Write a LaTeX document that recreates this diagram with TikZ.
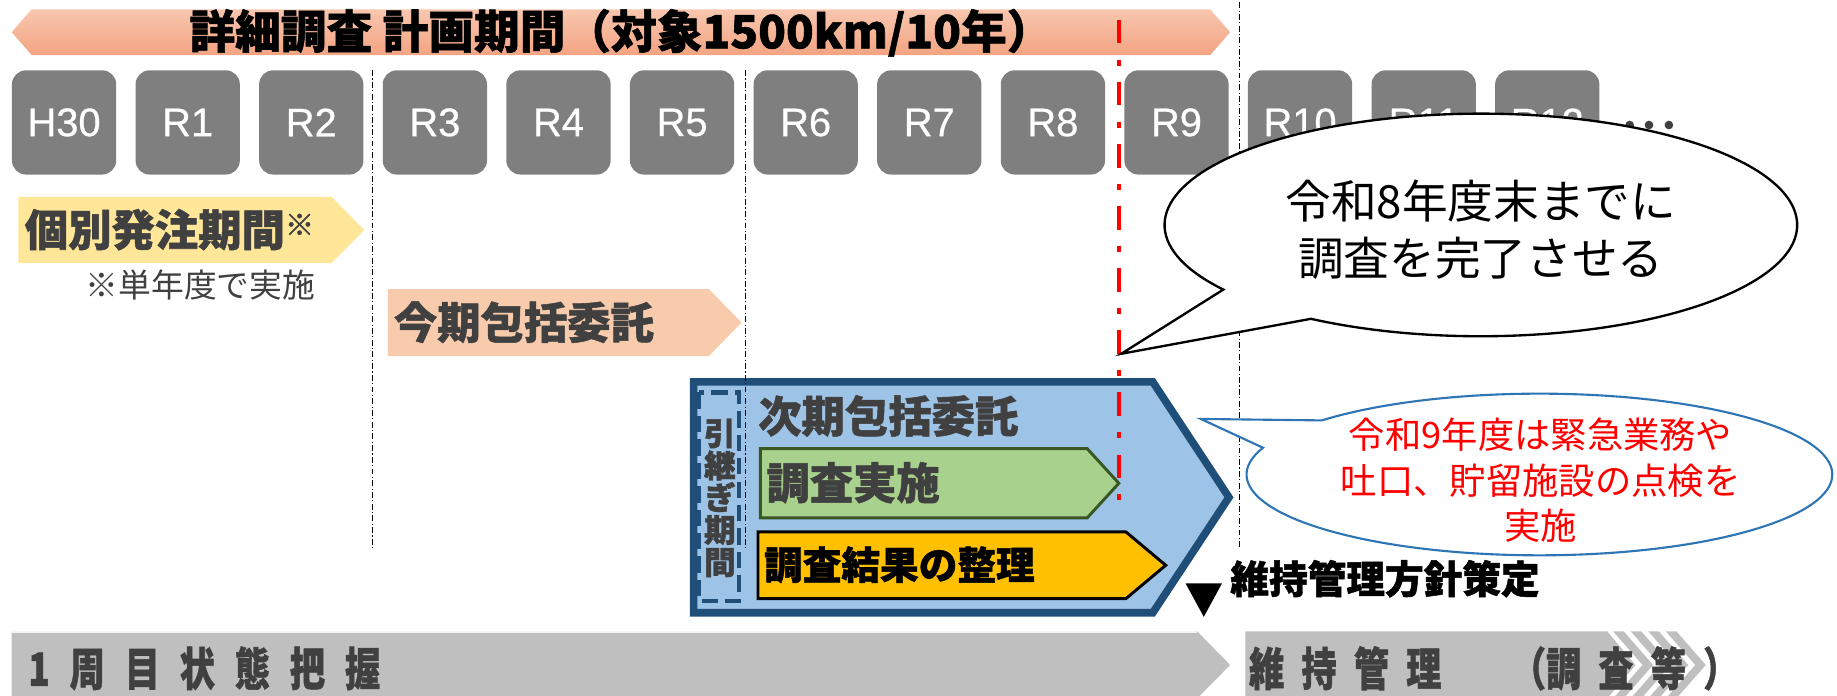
\documentclass[tikz,border=0pt]{standalone}
\usepackage{fontspec}
\setmainfont{Noto Sans CJK JP}
\newfontfamily\lat{Liberation Sans}[FakeBold=0.6]
\newcommand{\hv}{\bfseries\addfontfeature{FakeBold=1.2}}
\definecolor{txt}{HTML}{404040}
\definecolor{yrgray}{HTML}{7F7F7F}
\definecolor{salmonT}{HTML}{F8C6AE}
\definecolor{salmonB}{HTML}{F3A482}
\definecolor{yel}{HTML}{FFE699}
\definecolor{peach}{HTML}{F8CBAD}
\definecolor{lblue}{HTML}{9DC3E6}
\definecolor{dblue}{HTML}{1F4E79}
\definecolor{lgreen}{HTML}{A9D18E}
\definecolor{dgreen}{HTML}{385723}
\definecolor{orng}{HTML}{FFC000}
\definecolor{gbar}{HTML}{BFBFBF}
\definecolor{cblue}{HTML}{2E75B6}
\newcommand{\lk}{\kern17pt}
\newcommand{\mk}{\kern14.7pt}
\begin{document}
\begin{tikzpicture}[x=1pt,y=-1pt,
  yrbox/.style={fill=yrgray, text=white, rounded corners=12pt, minimum width=89pt, minimum height=89pt, inner sep=0pt, font=\lat\fontsize{34}{34}\selectfont},
  lbl/.style={inner sep=0pt, anchor=west, text=txt, font=\fontsize{37}{37}\selectfont\hv},
  barlbl/.style={inner sep=0pt, anchor=west, text=txt, font=\fontsize{30}{30}\selectfont\hv},
  ddline/.style={black, line width=0.9pt, dash pattern=on 5pt off 2pt on 1pt off 2pt},
  redline/.style={red, line width=3pt, dash pattern=on 20pt off 14pt on 5pt off 14pt}]
\useasboundingbox (0,0) rectangle (1568,594);

% top double arrow
\shade[top color=salmonT, bottom color=salmonB] (10,27.5) -- (27,8) -- (1033,8) -- (1050,27.5) -- (1033,47) -- (27,47) -- cycle;
\node[inner sep=0pt, text=black, font=\fontsize{39}{39}\selectfont\hv] (title) at (530,28) {詳細調査 計画期間（対象1500km/10年）};

% year boxes
\foreach \lbl [count=\i from 0] in {H30,R1,R2,R3,R4,R5,R6,R7,R8,R9,R10,R11,R12}
  \node[yrbox] (yr\i) at ({54.7+105.5*\i},104.5) {\raisebox{-2pt}{\lbl}};

% ellipsis dots
\foreach \dx [count=\j] in {1391,1407.5,1424.5}
  \fill[txt] (\dx,106.7) circle[radius=3.7pt];

% dash-dot separators
\coordinate (s1t) at (318,60); \coordinate (s1b) at (318,468);
\coordinate (s3t) at (1058,2); \coordinate (s3b) at (1058,467);
\draw[ddline] (s1t) -- (s1b);
\draw[ddline] (s3t) -- (s3b);

% individual ordering period
\fill[yel] (15.7,168) -- (283,168) -- (311,196.3) -- (283,224.6) -- (15.7,224.6) -- cycle;
\node[lbl] (kobetsu) at (21,196) {個別発注期間{\fontsize{25}{25}\selectfont\raisebox{9pt}{※}}};
\node[inner sep=0pt, anchor=west, text=txt, font=\fontsize{28}{28}\selectfont] (note) at (73,243) {※単年度で実施};

% current comprehensive contract
\fill[peach] (331,246.7) -- (605,246.7) -- (633,275.3) -- (605,303.9) -- (331,303.9) -- cycle;
\node[lbl] (konki) at (336,275) {今期包括委託};

% next comprehensive contract
\filldraw[fill=lblue, draw=dblue, line width=6.5pt] (592,326) -- (984,326) -- (1049,424.5) -- (984,523) -- (592,523) -- cycle;
\draw[dblue, line width=3.5pt, dash pattern=on 14pt off 6pt] (597,335) rectangle (631,513);
\node[inner sep=0pt, align=center, text=txt, font=\fontsize{27}{27.5}\selectfont\hv] (hikitsugi) at (614.5,425) {引\\継\\ぎ\\期\\間};
\node[lbl] (jiki) at (647,355) {次期包括委託};
\filldraw[fill=lgreen, draw=dgreen, line width=2.5pt] (649,383) -- (928,383) -- (955,412.5) -- (928,442) -- (649,442) -- cycle;
\node[lbl] (jisshi) at (654,412) {調査実施};
\filldraw[fill=orng, draw=black, line width=2.5pt] (647,454) -- (961,454) -- (995,482.5) -- (961,511) -- (647,511) -- cycle;
\node[lbl, text=black, font=\fontsize{33}{33}\selectfont\hv] (seiri) at (652,482) {調査結果の整理};

\coordinate (s2t) at (636,60); \coordinate (s2b) at (636,468);
\draw[ddline] (s2t) -- (s2b);

% red deadline line
\coordinate (rt) at (955,17); \coordinate (rb) at (955,432);
\draw[redline] (rt) -- (rb);

% policy marker
\fill[black] (1012,498) -- (1043,498) -- (1027.5,526.5) -- cycle;
\node[lbl, text=black, font=\fontsize{33}{33}\selectfont\hv] (houshin) at (1050,494) {維持管理方針策定};

% bottom bars
\fill[gbar] (10,539) -- (1022,539) -- (1050,567.6) -- (1022,596) -- (10,596) -- cycle;
\draw[white!85!gbar, line width=1pt] (10,539.5) -- (1022,539.5);
\node[barlbl] (shukai) at (24,570.5) {\scalebox{1}[1.3]{1\lk 周\lk 目\lk 状\lk 態\lk 把\lk 握}};
\fill[gbar] (1063,539) -- (1372,539) -- (1396,567.6) -- (1372,596) -- (1063,596) -- cycle;
\foreach \k in {0,...,3}
  \fill[gbar] ({1377+15*\k},539) -- ({1386+15*\k},539) -- ({1411+15*\k},567.6) -- ({1386+15*\k},596) -- ({1377+15*\k},596) -- ({1402+15*\k},567.6) -- cycle;
\node[barlbl] (iji) at (1066,570.5) {\scalebox{1}[1.3]{維\mk 持\mk 管\mk 理\mk 　\mk （調\mk 査\mk 等\mk ）}};

% callout 1
\coordinate (c1tip) at (957,302);
\path[draw=black, fill=white, line width=2pt] (1264,192) ++(122.5:270 and 95) arc[start angle=122.5, end angle=-215.5, x radius=270, y radius=95] -- (c1tip) -- cycle;
\node[inner sep=0pt, align=center, text=black, font=\fontsize{39}{48}\selectfont] (call1) at (1264,196) {令和8年度末までに\\調査を完了させる};

% callout 2
\coordinate (c2tip) at (1025,357.6);
\path[draw=cblue, fill=white, line width=1.8pt] (1314,405) ++(222:250 and 69) arc[start angle=222, end angle=559.3, x radius=250, y radius=69] -- (c2tip) -- cycle;
\node[inner sep=0pt, align=center, text=red, font=\fontsize{31}{39}\selectfont] (call2) at (1315,410) {令和9年度は緊急業務や\\吐口、貯留施設の点検を\\実施};
\end{tikzpicture}
\end{document}
